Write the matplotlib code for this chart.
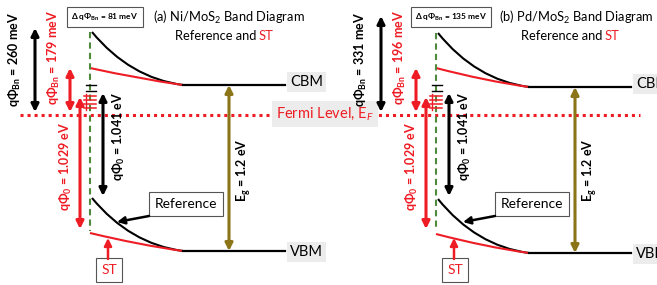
import matplotlib.pyplot as plt
from matplotlib.path import Path
from matplotlib.patches import PathPatch

plt.rcParams['font.family'] = ['Lato', 'DejaVu Sans']
plt.rcParams['mathtext.fontset'] = 'custom'
plt.rcParams['mathtext.rm'] = 'Lato'
plt.rcParams['mathtext.it'] = 'Lato:italic'
plt.rcParams['mathtext.bf'] = 'Lato:bold'

RED = '#ee1c24'
GREEN = '#4f8a3c'
OLIVE = '#8c7418'

# diagram layout, in picture pixels (y downwards)
fermi_y = 115
panels = ['a', 'b']
titles = ['(a) Ni/MoS$_2$ Band Diagram', '(b) Pd/MoS$_2$ Band Diagram']
delta_labels = ['\u0394 q\u03a6$_{\\bf{Bn}}$ = 81 meV', '\u0394 q\u03a6$_{\\bf{Bn}}$ = 135 meV']
phi_bn_ref = ['q\u03a6$_{\\bf{Bn}}$ = 260 meV', 'q\u03a6$_{\\bf{Bn}}$ = 331 meV']
phi_bn_st = ['q\u03a6$_{\\bf{Bn}}$ = 179 meV', 'q\u03a6$_{\\bf{Bn}}$ = 196 meV']
phi0_st = 'q\u03a6$_{\\bf{0}}$ = 1.029 eV'
phi0_ref = 'q\u03a6$_{\\bf{0}}$ = 1.041 eV'
eg_label = 'E$_{\\bf{g}}$ = 1.2 eV'

offsets = [0, 346]
cbm_y = [85, 87]
vbm_y = [251, 253]
ref_top = [32, 33]
st_top = [68, 68]
ref_bot = [198, 199]
st_bot = [233, 234]
ref_arrow_top = [28, 16]

fig = plt.figure(figsize=(6.57, 2.85), dpi=100)
ax = fig.add_axes([0, 0, 1, 1])
ax.set_xlim(0, 657)
ax.set_ylim(285, 0)
ax.axis('off')


def curve(p0, c, p1, color):
    path = Path([p0, c, p1], [Path.MOVETO, Path.CURVE3, Path.CURVE3])
    ax.add_patch(PathPatch(path, facecolor='none', edgecolor=color, lw=1.5))


def darrow(x, y0, y1, color, lw=2.2):
    ax.annotate('', xy=(x, y1), xytext=(x, y0),
                arrowprops=dict(arrowstyle='<|-|>', color=color, lw=lw,
                                mutation_scale=11, shrinkA=0, shrinkB=0))


# Fermi level
ax.plot([20, 640], [fermi_y, fermi_y], color=RED, ls=(0, (1, 1.3)), lw=2.2)
ax.text(325, 114, 'Fermi Level, E$_F$', color=RED, fontsize=10.5, ha='center', va='center',
        bbox=dict(facecolor='#ececec', edgecolor='none', pad=3))

for i, dx in enumerate(offsets):
    xi = 90 + dx          # interface
    xf = 183 + dx         # end of band bending
    xe = 285 + dx         # end of flat band
    c, v = cbm_y[i], vbm_y[i]

    # flat bands
    ax.plot([xf, xe], [c, c], color='black', lw=1.6)
    ax.plot([xf, xe], [v, v], color='black', lw=1.6)
    ax.text(xe + 5, c - 3, 'CBM', fontsize=10.5, va='center',
            bbox=dict(facecolor='#ececec', edgecolor='none', pad=2))
    ax.text(xe + 5, v + 1, 'VBM', fontsize=10.5, va='center',
            bbox=dict(facecolor='#ececec', edgecolor='none', pad=2))

    # band bending, reference (black) and ST (red)
    curve((xi + 2, ref_top[i]), (xi + 40, c - 7), (xf, c), 'black')
    curve((xi, st_top[i]), (xi + 50, c - 6), (xf, c), RED)
    curve((xi + 2, ref_bot[i]), (xi + 40, v - 7), (xf, v), 'black')
    curve((xi, st_bot[i]), (xi + 50, v - 6), (xf, v), RED)

    # interface
    ax.plot([xi, xi], [ref_top[i], 231], color=GREEN, ls=(0, (3, 2)), lw=1.5)

    # interface states
    for yy in [96, 100, 104, 108]:
        ax.plot([xi - 6, xi + 6], [yy, yy], color=RED, lw=1.1)
    ax.plot([xi - 4, xi - 4], [94, 110], color=RED, lw=1.0)
    for yy in [85, 91]:
        ax.plot([xi - 4, xi + 6], [yy, yy], color='black', lw=1.0)

    # barrier arrows
    darrow(35 + dx, ref_arrow_top[i], 112, 'black')
    darrow(70 + dx, st_top[i], 112, RED)
    darrow(80 + dx, 97, 229, RED)
    darrow(103 + dx, 93, 196, 'black')
    darrow(229 + dx, c, v, OLIVE)

    ax.text(15 + dx, 60, phi_bn_ref[i], rotation=90, fontsize=9, fontweight='bold',
            ha='center', va='center')
    ax.text(54 + dx, 58, phi_bn_st[i], rotation=90, fontsize=9, fontweight='bold',
            color=RED, ha='center', va='center')
    ax.text(66 + dx, 166, phi0_st, rotation=90, fontsize=9, fontweight='bold',
            color=RED, ha='center', va='center')
    ax.text(119 + dx, 136, phi0_ref, rotation=90, fontsize=9, fontweight='bold',
            ha='center', va='center')
    ax.text(244 + dx, 170, eg_label, rotation=90, fontsize=9, fontweight='bold',
            ha='center', va='center')

    # titles
    ax.text(153 + dx, 17, titles[i], fontsize=9.3, va='center')
    ax.text(256 + dx, 36, 'Reference and', fontsize=9.3, va='center', ha='right')
    ax.text(259 + dx, 36, 'ST', fontsize=9.3, va='center', ha='left', color=RED)
    ax.text(105 + dx, 17, delta_labels[i], fontsize=6, fontweight='bold',
            ha='center', va='center',
            bbox=dict(facecolor='white', edgecolor='#555555', lw=0.8, pad=3))

    # callouts
    ax.text(186 + dx, 204, 'Reference', fontsize=10, ha='center', va='center',
            bbox=dict(facecolor='white', edgecolor='#555555', lw=0.8, pad=4))
    ax.annotate('', xy=(117 + dx, 222), xytext=(149 + dx, 216),
                arrowprops=dict(arrowstyle='-|>', color='black', lw=1.8,
                                mutation_scale=11, shrinkA=0, shrinkB=0))
    ax.text(109 + dx, 270, 'ST', fontsize=10, color=RED, ha='center', va='center',
            bbox=dict(facecolor='white', edgecolor='#555555', lw=0.8, pad=4))
    ax.annotate('', xy=(108 + dx, 238), xytext=(108 + dx, 259),
                arrowprops=dict(arrowstyle='-|>', color=RED, lw=1.8,
                                mutation_scale=11, shrinkA=0, shrinkB=0))

fig.savefig('out.png', dpi=100)
